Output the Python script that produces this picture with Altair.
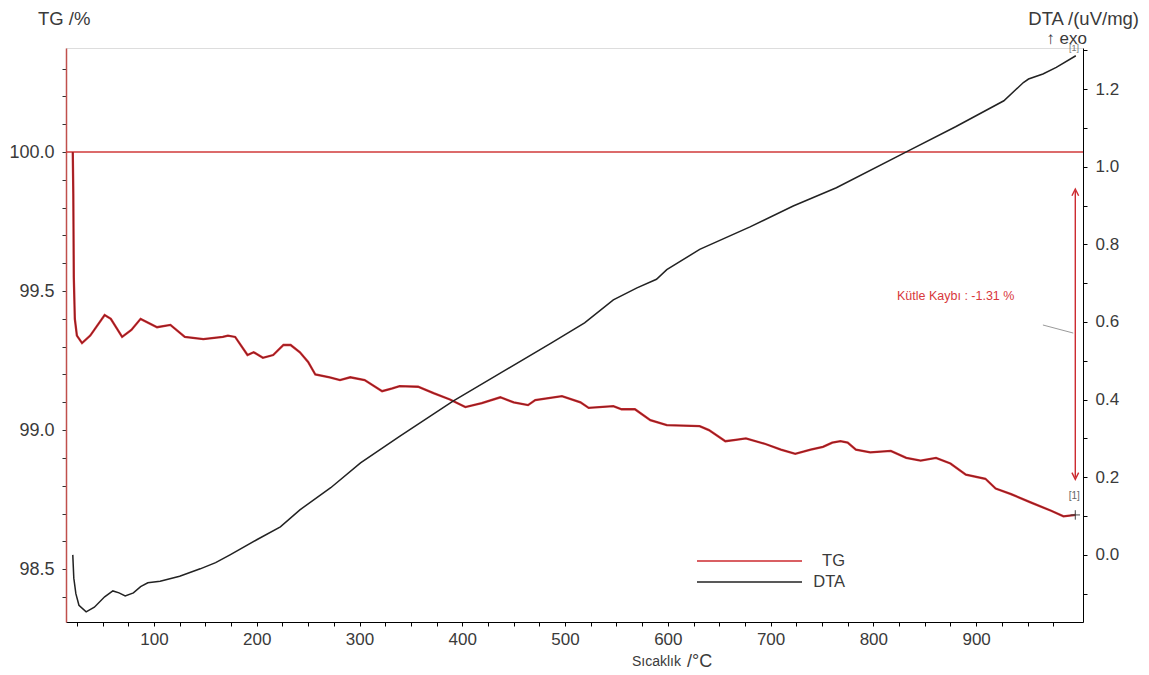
import altair as alt
import pandas as pd

# ---------------- data ----------------
tg_temp = [21, 21.5, 22, 23, 25, 30, 38, 52, 58, 69, 78, 87, 103, 116, 130, 148, 167, 172,
           179, 191, 197, 206, 216, 226, 233, 242, 250, 257, 271, 281, 291, 305, 322, 332,
           339, 357, 372, 388, 403, 419, 437, 450, 464, 471, 497, 515, 523, 547, 555, 568,
           583, 599, 631, 640, 656, 666, 676, 695, 710, 724, 739, 751, 760, 768, 775, 783,
           797, 817, 832, 846, 861, 875, 890, 909, 919, 934, 953, 973, 985, 997]
tg_val = [100.0, 99.85, 99.55, 99.40, 99.34, 99.313, 99.34, 99.414, 99.40, 99.335, 99.36,
          99.40, 99.37, 99.378, 99.335, 99.327, 99.335, 99.34, 99.335, 99.27, 99.28, 99.26,
          99.27, 99.306, 99.306, 99.28, 99.245, 99.20, 99.19, 99.18, 99.19, 99.18, 99.14,
          99.15, 99.158, 99.156, 99.133, 99.11, 99.083, 99.097, 99.118, 99.10, 99.09, 99.108,
          99.122, 99.10, 99.08, 99.086, 99.075, 99.075, 99.036, 99.018, 99.014, 99.0, 98.96,
          98.965, 98.97, 98.95, 98.93, 98.915, 98.93, 98.94, 98.955, 98.96, 98.955, 98.93,
          98.92, 98.925, 98.90, 98.89, 98.90, 98.88, 98.84, 98.825, 98.79, 98.77, 98.74,
          98.71, 98.69, 98.695]

dta_temp = [21, 22, 24, 27, 34, 42, 52, 60, 66, 72, 80, 87, 94, 106, 125, 145, 160, 174,
            200, 223, 242, 272, 301, 339, 391, 437, 486, 519, 547, 570, 589, 599, 631, 680,
            722, 764, 834, 880, 927, 946, 951, 965, 978, 997]
dta_val = [0.0, -0.06, -0.10, -0.13, -0.147, -0.135, -0.108, -0.093, -0.098, -0.106, -0.098,
           -0.082, -0.072, -0.068, -0.055, -0.036, -0.02, 0.0, 0.039, 0.072, 0.116, 0.173,
           0.237, 0.305, 0.396, 0.468, 0.545, 0.598, 0.657, 0.688, 0.71, 0.735, 0.787, 0.845,
           0.899, 0.946, 1.041, 1.103, 1.170, 1.217, 1.226, 1.239, 1.256, 1.286]

x_ticks = list(range(25, 1000, 25))
tg_ticks = [98.4, 98.5, 98.6, 98.7, 98.8, 98.9, 99.0, 99.1, 99.2, 99.3, 99.4, 99.5, 99.6,
            99.7, 99.8, 99.9, 100.0, 100.1, 100.2, 100.3]
dta_ticks = [-0.1, 0.0, 0.1, 0.2, 0.3, 0.4, 0.5, 0.6, 0.7, 0.8, 0.9, 1.0, 1.1, 1.2, 1.3]

mass_loss_label = "Kütle Kaybı : -1.31 %"
legend_names = ["TG", "DTA"]

X_DOMAIN = [14.4, 1004.0]
TG_DOMAIN = [98.31, 100.374]
DTA_DOMAIN = [-0.173, 1.306]

RED = "#cc2a2f"
DARK = "#222222"
FONT = "Liberation Sans"
LABEL = "#3a3a3a"
W, H = 1017, 574

tg_df = pd.DataFrame({"T": tg_temp, "TG": tg_val})
dta_df = pd.DataFrame({"T": dta_temp, "DTA": dta_val})

xscale = alt.Scale(domain=X_DOMAIN, nice=False, zero=False)
tgscale = alt.Scale(domain=TG_DOMAIN, nice=False, zero=False)
dtascale = alt.Scale(domain=DTA_DOMAIN, nice=False, zero=False)

x_axis = alt.Axis(values=x_ticks, title=None, grid=False, domainColor="black",
                  tickColor="black", tickSize=4, labelFontSize=17, labelColor=LABEL,
                  labelFont=FONT, labelPadding=5, labelOverlap=False, labelFlush=False,
                  labelExpr="datum.value % 100 == 0 ? datum.label : ''")
tg_axis = alt.Axis(values=tg_ticks, format=".1f", title=None, grid=False, orient="left",
                   domainColor="#c0504d", domainWidth=1.5, tickColor="#333333", tickSize=4,
                   labelFontSize=18, labelColor=LABEL, labelFont=FONT, labelPadding=8,
                   labelOverlap=False, labelFlush=False,
                   labelExpr="abs(datum.value*2 - round(datum.value*2)) < 0.001 ? datum.label : ''")
dta_axis = alt.Axis(values=dta_ticks, format=".1f", title=None, grid=False, orient="right",
                    domainColor="black", tickColor="black", tickSize=4, labelFontSize=17,
                    labelColor=LABEL, labelFont=FONT, labelPadding=8, labelOverlap=False,
                    labelFlush=False,
                    labelExpr="abs(datum.value*5 - round(datum.value*5)) < 0.001 ? datum.label : ''")


def X():
    return alt.X("T:Q", scale=xscale, axis=x_axis)


def YT(field="TG"):
    return alt.Y(f"{field}:Q", scale=tgscale, axis=tg_axis)


# ---------------- TG group ----------------
tg_base = alt.Chart(tg_df).encode(x=X(), y=YT())
tg_line = tg_base.mark_line(color=RED, strokeWidth=2.3)
tg_shade = tg_base.mark_line(color="#3a0d0d", strokeWidth=0.9, opacity=0.5)

hline = alt.Chart(pd.DataFrame({"TG": [100.0]})).mark_rule(
    color="#d03a3a", strokeWidth=1.5).encode(y=YT())

arrow_df = pd.DataFrame({"T": [996.5], "TG": [99.86], "TG2": [98.83]})
arrow_line = alt.Chart(arrow_df).mark_rule(color=RED, strokeWidth=1.4).encode(
    x=X(), y=YT(), y2="TG2:Q")
head_up = alt.Chart(pd.DataFrame({"T": [996.5], "TG": [99.855]})).mark_point(
    shape="M-1,1L0,-1L1,1", filled=False, color=RED, size=45, strokeWidth=1.4, opacity=1
).encode(x=X(), y=YT())
head_dn = alt.Chart(pd.DataFrame({"T": [996.5], "TG": [98.835]})).mark_point(
    shape="M-1,-1L0,1L1,-1", filled=False, color=RED, size=45, strokeWidth=1.4, opacity=1
).encode(x=X(), y=YT())

loss_text = alt.Chart(pd.DataFrame({"T": [823], "TG": [99.482], "t": [mass_loss_label]})).mark_text(
    align="left", baseline="middle", color="#d8383c", fontSize=12.5, font=FONT
).encode(x=X(), y=YT(), text="t:N")

leader = alt.Chart(pd.DataFrame({"T": [965], "T2": [994.5], "TG": [99.378], "TG2": [99.349]})).mark_rule(
    color="#9a9a9a", strokeWidth=1).encode(x=X(), x2="T2:Q", y=YT(), y2="TG2:Q")

marker_lbl = alt.Chart(pd.DataFrame({"T": [995.5], "TG": [98.762], "t": ["[1]"]})).mark_text(
    align="center", baseline="middle", color="#666666", fontSize=10, font=FONT
).encode(x=X(), y=YT(), text="t:N")
marker_cross = alt.Chart(pd.DataFrame({"T": [996.5], "TG": [98.695]})).mark_point(
    shape="M-1,0L1,0M0,-1L0,1", filled=False, color="#444444", size=90, strokeWidth=1, opacity=1
).encode(x=X(), y=YT())

tg_group = alt.layer(hline, tg_line, tg_shade, arrow_line, head_up, head_dn, loss_text,
                     leader, marker_lbl, marker_cross)

# ---------------- DTA group ----------------
dta_line = alt.Chart(dta_df).mark_line(color=DARK, strokeWidth=1.5).encode(
    x=X(), y=alt.Y("DTA:Q", scale=dtascale, axis=dta_axis))
dta_group = alt.layer(dta_line)


# ---------------- decorations (titles, legend) ----------------
def txt(s, x, y, size, color=LABEL, align="left"):
    return alt.Chart(pd.DataFrame({"t": [s]})).mark_text(
        align=align, baseline="middle", fontSize=size, font=FONT, color=color
    ).encode(x=alt.value(x), y=alt.value(y), text="t:N")


def seg(x1, x2, y, color):
    return alt.Chart(pd.DataFrame({"a": [0]})).mark_rule(color=color, strokeWidth=1.5).encode(
        x=alt.value(x1), x2=alt.value(x2), y=alt.value(y))


deco = alt.layer(
    txt("TG /%", -28, -29, 18.5),
    txt("DTA /(uV/mg)", 1073, -29, 18.5, align="right"),
    txt("↑ exo", 1021, -9, 17, align="right"),
    txt("[1]", 1008, 0, 9, color="#777777", align="center"),
    txt("Sıcaklık", 566, 614, 14),
    txt("/°C", 621, 614, 18),
    seg(631, 736, 513, RED),
    seg(631, 736, 534, DARK),
    txt(legend_names[0], 779, 513, 16.5, align="right"),
    txt(legend_names[1], 779, 534, 16.5, align="right"),
)

chart = alt.layer(tg_group, dta_group, deco).resolve_scale(y="independent").properties(
    width=W, height=H,
    autosize=alt.AutoSizeParams(type="none"),
    padding={"left": 58, "top": 40, "right": 58, "bottom": 52},
).configure_view(stroke=None).configure_axis(labelOverlap=False).configure(background="white")

chart.save("out.html", embed_options={"renderer": "svg", "actions": False})
